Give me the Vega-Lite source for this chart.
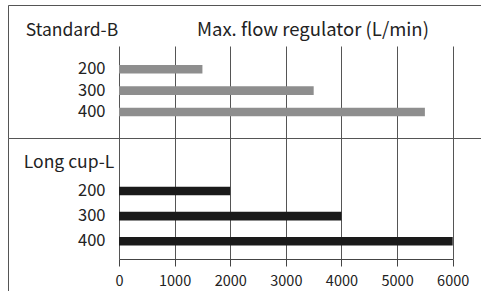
{
  "$schema": "https://vega.github.io/schema/vega-lite/v6.json",
  "padding": {"left": 7, "top": 4, "right": 0, "bottom": 0},
  "spacing": 0,
  "bounds": "flush",
  "resolve": {"scale": {"x": "independent", "y": "independent"}},
  "config": {
    "font": "Noto Sans CJK JP",
    "axis": {
      "labelFont": "Noto Sans CJK JP",
      "titleFont": "Noto Sans CJK JP",
      "labelColor": "#222",
      "titleColor": "#222",
      "titleFontWeight": "normal",
      "gridColor": "#555",
      "gridOpacity": 1
    }
  },
  "datasets": {
    "flows": [
      {"series": "Standard-B", "size": "200", "flow": 1500},
      {"series": "Standard-B", "size": "300", "flow": 3500},
      {"series": "Standard-B", "size": "400", "flow": 5500},
      {"series": "Long cup-L", "size": "200", "flow": 2000},
      {"series": "Long cup-L", "size": "300", "flow": 4000},
      {"series": "Long cup-L", "size": "400", "flow": 6000}
    ]
  },
  "vconcat": [
    {
      "width": 473,
      "height": 133,
      "view": {"stroke": "#555", "strokeWidth": 1, "strokeDash": [473, 606, 133]},
      "data": {"name": "flows"},
      "transform": [{"filter": "datum.series === 'Standard-B'"}],
      "mark": {"type": "bar", "color": "#8e8e8e", "height": 8.6},
      "encoding": {
        "x": {
          "field": "flow", "type": "quantitative",
          "scale": {"domain": [0, 6000], "range": [111, 444.7], "nice": false, "zero": true},
          "axis": {
            "orient": "top", "grid": true, "gridColor": "#555", "gridWidth": 1,
            "domain": false, "ticks": false, "labels": false,
            "values": [0, 1000, 2000, 3000, 4000, 5000, 6000],
            "title": "Max. flow regulator (L/min)",
            "titleFontSize": 18.5, "titleX": 304.5, "titleY": 30,
            "titleAlign": "center", "titleBaseline": "alphabetic", "titleAngle": 0
          }
        },
        "y": {
          "field": "size", "type": "nominal", "sort": ["200", "300", "400"],
          "scale": {"range": [41, 133], "paddingInner": 0, "paddingOuter": 0.655, "align": 0.452},
          "axis": {
            "orient": "left", "offset": -97, "domain": false, "ticks": false, "tickSize": 0,
            "labelPadding": 0, "labelFontSize": 16.5, "labelBaseline": "middle",
            "title": "Standard-B", "titleFontSize": 17.5, "titleAngle": 0,
            "titleX": -33.5, "titleY": 30.7, "titleAlign": "center", "titleBaseline": "alphabetic"
          }
        }
      }
    },
    {
      "width": 473,
      "height": 153,
      "view": {"stroke": "#555", "strokeWidth": 1, "strokeDash": [473, 626, 153]},
      "data": {"name": "flows"},
      "transform": [{"filter": "datum.series === 'Long cup-L'"}],
      "mark": {"type": "bar", "color": "#1a1a1a", "height": 8.6},
      "encoding": {
        "x": {
          "field": "flow", "type": "quantitative",
          "scale": {"domain": [0, 6000], "range": [111, 444.7], "nice": false, "zero": true},
          "axis": {
            "orient": "bottom", "offset": -32, "grid": true, "gridColor": "#555", "gridWidth": 1,
            "domain": true, "ticks": true,
            "values": [0, 1000, 2000, 3000, 4000, 5000, 6000], "format": "d",
            "domainColor": "#444", "tickColor": "#444", "tickSize": 7,
            "labelFontSize": 14.5, "labelPadding": 8, "labelFlush": false,
            "title": null
          }
        },
        "y": {
          "field": "size", "type": "nominal", "sort": ["200", "300", "400"],
          "scale": {"range": [32, 153], "paddingInner": 0, "paddingOuter": 0.91, "align": 0.185},
          "axis": {
            "orient": "left", "offset": -97, "domain": false, "ticks": false, "tickSize": 0,
            "labelPadding": 0, "labelFontSize": 16.5, "labelBaseline": "middle",
            "title": "Long cup-L", "titleFontSize": 17.5, "titleAngle": 0,
            "titleX": -36.5, "titleY": 29, "titleAlign": "center", "titleBaseline": "alphabetic"
          }
        }
      }
    }
  ]
}
